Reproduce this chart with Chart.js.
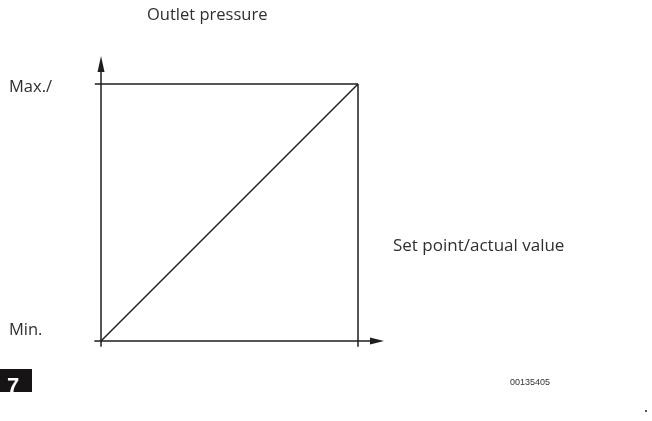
<!DOCTYPE html>
<html><head><meta charset="utf-8">
<script src="https://cdn.jsdelivr.net/npm/chart.js@4/dist/chart.umd.min.js"></script>
<style>html,body{margin:0;padding:0;background:#fff}#wrap{width:652px;height:421px;position:relative}</style>
</head><body><div id="wrap"><canvas id="c" width="652" height="421"></canvas></div>
<script>
const yTickValues = [0, 1];
const yTickLabels = ["Min.", "Max./"];
const diagonalX = [0, 1];
const diagonalY = [0, 1];
const yAxisTitle = "Outlet pressure";
const xAxisTitle = "Set point/actual value";
const figureNumber = "7";
const figureCode = "00135405";

const INK = '#1e1e1e';
const TXT = '#2f2f2f';

const diag = diagonalX.map((x, i) => ({x, y: diagonalY[i]}));
const boxTop = [{x: -0.024, y: 1}, {x: 1, y: 1}];
const boxRight = [{x: 1, y: 1}, {x: 1, y: -0.022}];

const annot = {
  id: 'annot',
  afterDatasetsDraw(chart) {
    const {ctx, scales: {x, y}} = chart;
    const x0 = x.getPixelForValue(0), y0 = y.getPixelForValue(0);
    const xEnd = x.right, yEnd = y.top;
    ctx.save();
    ctx.strokeStyle = INK; ctx.fillStyle = INK; ctx.lineWidth = 1.5;
    // y axis
    ctx.beginPath(); ctx.moveTo(x0, y.getPixelForValue(-0.022)); ctx.lineTo(x0, yEnd + 12); ctx.stroke();
    ctx.beginPath(); ctx.moveTo(x0, yEnd); ctx.lineTo(x0 - 3.5, yEnd + 16); ctx.lineTo(x0 + 3.5, yEnd + 16); ctx.closePath(); ctx.fill();
    // x axis
    ctx.beginPath(); ctx.moveTo(x.getPixelForValue(-0.026), y0); ctx.lineTo(xEnd - 12, y0); ctx.stroke();
    ctx.beginPath(); ctx.moveTo(xEnd, y0); ctx.lineTo(xEnd - 14, y0 - 3.5); ctx.lineTo(xEnd - 14, y0 + 3.5); ctx.closePath(); ctx.fill();
    // texts
    ctx.fillStyle = TXT;
    ctx.font = '16.5px "Open Sans"';
    ctx.textBaseline = 'middle'; ctx.textAlign = 'left';
    yTickValues.forEach((v, i) => ctx.fillText(yTickLabels[i], 9, y.getPixelForValue(v) + (i === 0 ? -11 : 3)));
    ctx.fillText(yAxisTitle, 147, 15);
    ctx.font = '17px "Open Sans"';
    ctx.fillText(xAxisTitle, 393, 246);
    // figure number box
    ctx.fillStyle = '#161414';
    ctx.fillRect(0, 369, 32, 23);
    ctx.save();
    ctx.beginPath(); ctx.rect(0, 369, 32, 23); ctx.clip();
    ctx.fillStyle = '#fff';
    ctx.font = 'bold 22px "Liberation Sans"';
    ctx.textBaseline = 'alphabetic';
    ctx.fillText(figureNumber, 7, 393);
    ctx.restore();
    ctx.fillStyle = '#333';
    ctx.font = '9px "Liberation Sans"';
    ctx.textBaseline = 'middle';
    ctx.fillText(figureCode, 510, 383);
    ctx.fillStyle = '#555';
    ctx.fillRect(645, 410, 2, 2);
    ctx.restore();
  }
};

new Chart(document.getElementById('c'), {
  type: 'scatter',
  data: {
    datasets: [
      {data: diag, showLine: true, borderColor: INK, borderWidth: 1.5, pointRadius: 0, clip: false},
      {data: boxTop, showLine: true, borderColor: INK, borderWidth: 1.5, pointRadius: 0, clip: false},
      {data: boxRight, showLine: true, borderColor: INK, borderWidth: 1.5, pointRadius: 0, clip: false}
    ]
  },
  options: {
    responsive: false, animation: false, events: [],
    layout: {padding: {left: 101, right: 652 - 384, top: 56, bottom: 421 - 341}},
    plugins: {legend: {display: false}, tooltip: {enabled: false}},
    scales: {
      x: {type: 'linear', display: false, min: 0, max: (384 - 101) / 257},
      y: {type: 'linear', display: false, min: 0, max: (341 - 56) / 257}
    }
  },
  plugins: [annot]
});
</script></body></html>
